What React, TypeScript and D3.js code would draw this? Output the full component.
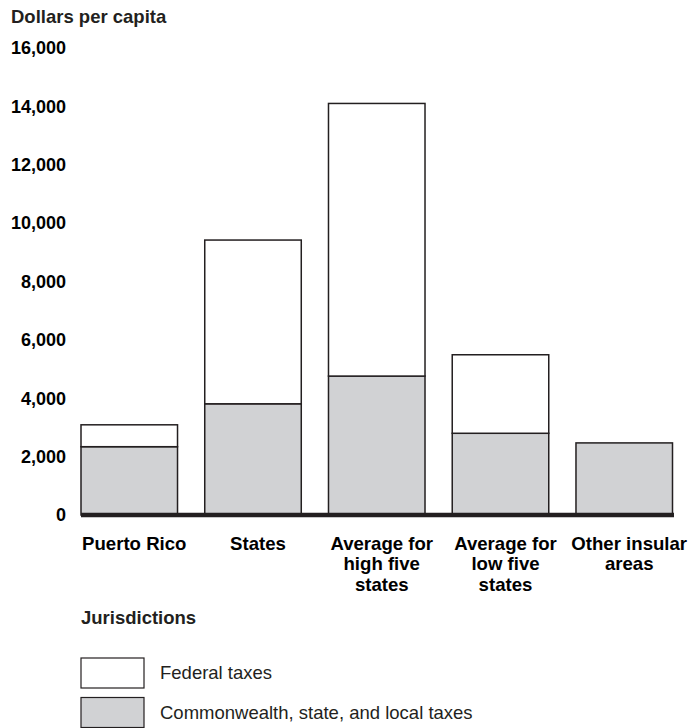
import React from "react";
import * as d3 from "d3";

const categories: string[][] = [
  ["Puerto Rico"],
  ["States"],
  ["Average for", "high five", "states"],
  ["Average for", "low five", "states"],
  ["Other insular", "areas"],
];
const localTaxes = [2340, 3810, 4760, 2800, 2470];
const totalTaxes = [3090, 9420, 14100, 5490, 2470];
const federalTaxes = totalTaxes.map((t, i) => t - localTaxes[i]);
const yTicks = [0, 2000, 4000, 6000, 8000, 10000, 12000, 14000, 16000];
const legendItems = ["Federal taxes", "Commonwealth, state, and local taxes"];

const W = 688;
const H = 728;
const INK = "#231f20";
const GREY = "#d1d2d4";
const FONT = "'Liberation Sans', Arial, Helvetica, sans-serif";

export default function App() {
  const keys = categories.map((c) => c.join(" "));
  const x = d3.scaleBand<string>().domain(keys).range([81, 672.5]).paddingInner(0.22).paddingOuter(0);
  const y = d3.scaleLinear().domain([0, 16000]).range([515, 48]);
  const fmt = d3.format(",");

  return (
    <svg
      width={W}
      height={H}
      style={{ position: "absolute", left: 0, top: 0, background: "#fff" }}
      fontFamily={FONT}
    >
      <text x={11} y={17} dy="0.35em" fontSize={18.5} fontWeight="bold" fill={INK}>
        Dollars per capita
      </text>
      {yTicks.map((t) => (
        <text key={t} x={66} y={y(t)} dy="0.35em" textAnchor="end" fontSize={18} fontWeight="bold" fill="#000">
          {fmt(t)}
        </text>
      ))}
      {keys.map((k, i) => {
        const bx = x(k)!;
        const bw = x.bandwidth();
        return (
          <g key={k}>
            <rect x={bx} y={y(localTaxes[i])} width={bw} height={y(0) - y(localTaxes[i])} fill={GREY} stroke={INK} strokeWidth={1.5} />
            {federalTaxes[i] > 0 && (
              <rect
                x={bx}
                y={y(totalTaxes[i])}
                width={bw}
                height={y(localTaxes[i]) - y(totalTaxes[i])}
                fill="#fff"
                stroke={INK}
                strokeWidth={1.5}
              />
            )}
            {categories[i].map((line, j) => (
              <text
                key={j}
                x={bx + bw / 2 + 5}
                y={543 + j * 20.8}
                dy="0.35em"
                textAnchor="middle"
                fontSize={18.6}
                fontWeight="bold"
                fill="#000"
              >
                {line}
              </text>
            ))}
          </g>
        );
      })}
      <line x1={81} x2={674} y1={y(0)} y2={y(0)} stroke={INK} strokeWidth={4.5} />
      <text x={81} y={618} dy="0.35em" fontSize={18.5} fontWeight="bold" fill={INK}>
        Jurisdictions
      </text>
      {legendItems.map((label, i) => (
        <g key={label}>
          <rect x={81} y={658 + i * 39.5} width={63} height={30} fill={i === 0 ? "#fff" : GREY} stroke={INK} strokeWidth={1.2} />
          <text x={160} y={673 + i * 40} dy="0.35em" fontSize={18.5} fill={INK}>
            {label}
          </text>
        </g>
      ))}
    </svg>
  );
}
